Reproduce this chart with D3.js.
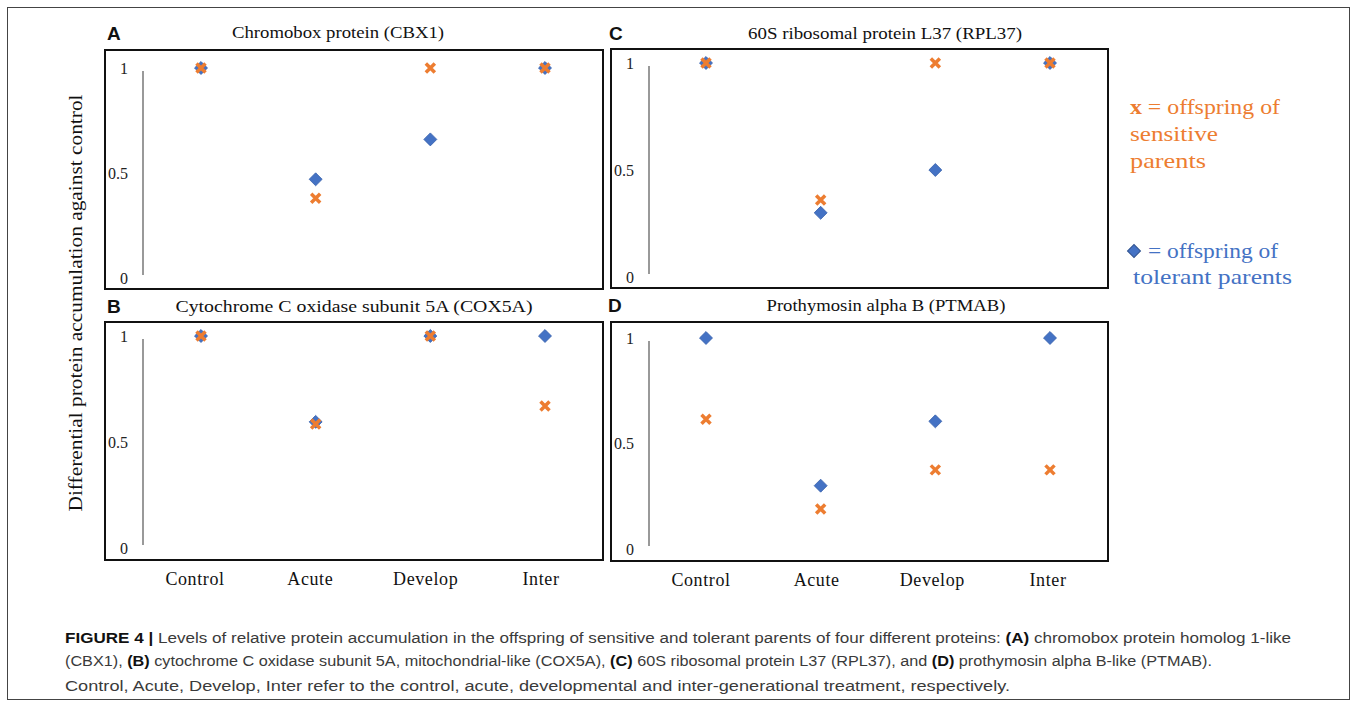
<!DOCTYPE html>
<html><head><meta charset="utf-8">
<script src="https://cdn.jsdelivr.net/npm/d3@7"></script>
<style>body{margin:0;background:#fff}svg{display:block}</style>
</head><body>
<script>
// ---- data ----
const categories = ["Control", "Acute", "Develop", "Inter"];
const panelLetters = ["A", "B", "C", "D"];
const panelTitles = [
  "Chromobox protein (CBX1)",
  "Cytochrome C oxidase  subunit 5A (COX5A)",
  "60S ribosomal protein L37 (RPL37)",
  "Prothymosin alpha B (PTMAB)"
];
const sensitiveA = [1, 0.38, 1, 1];
const sensitiveB = [1, 0.585, 1, 0.67];
const sensitiveC = [1, 0.36, 1, 1];
const sensitiveD = [0.615, 0.19, 0.375, 0.375];
const tolerantA = [1, 0.47, 0.66, 1];
const tolerantB = [1, 0.595, 1, 1];
const tolerantC = [1, 0.30, 0.50, 1];
const tolerantD = [1, 0.30, 0.605, 1];
const yTicks = [0, 0.5, 1];
const yTickLabels = ["0", "0.5", "1"];

const ORANGE = "#ED7D31", BLUE = "#4472C4";
const serif = "'Liberation Serif', 'DejaVu Serif', serif";
const sans = "'Liberation Sans', Arial, sans-serif";

const W = 1357, H = 708;
const svg = d3.select("body").append("svg").attr("width", W).attr("height", H);
svg.append("rect").attr("x", 7.5).attr("y", 7.5).attr("width", 1342).attr("height", 692)
  .attr("fill", "none").attr("stroke", "#444").attr("stroke-width", 1);

// layout per panel
const layout = [
  {box:[105,50,603,289], x:[201,545], y:[278,68], axisX:143, title:[338,32], letter:[107,33], titleLen:212, labels:[195,541]},
  {box:[105,322,603,560], x:[201,545], y:[548,336], axisX:143, title:[354,306], letter:[107,306], titleLen:357, labels:[195,541]},
  {box:[611,49,1108,288], x:[706,1050], y:[277,63], axisX:649, title:[885,33], letter:[609,33], titleLen:274, labels:[701,1048]},
  {box:[611,322,1108,561], x:[706,1050], y:[549,338], axisX:649, title:[886,305], letter:[608,305], titleLen:239, labels:[701,1048]}
];
const sensitive = [sensitiveA, sensitiveB, sensitiveC, sensitiveD];
const tolerant = [tolerantA, tolerantB, tolerantC, tolerantD];

const diamond = d3.symbol().type(d3.symbolSquare).size(84);

layout.forEach((L, i) => {
  const g = svg.append("g");
  const [x0,y0,x1,y1] = L.box;
  g.append("rect").attr("x", x0).attr("y", y0).attr("width", x1-x0).attr("height", y1-y0)
    .attr("fill", "#fff").attr("stroke", "#111").attr("stroke-width", 2);
  const x = d3.scalePoint().domain(categories).range(L.x);
  const y = d3.scaleLinear().domain([0,1]).range(L.y);
  // y axis line
  g.append("line").attr("x1", L.axisX).attr("x2", L.axisX)
    .attr("y1", y(1)+3).attr("y2", y(0)-3).attr("stroke", "#999").attr("stroke-width", 2);
  g.selectAll(".tk").data(yTicks).join("text")
    .attr("x", L.axisX - 15).attr("y", d => y(d)).attr("dy", "0.35em")
    .attr("text-anchor", "end").attr("font-family", serif).attr("font-size", 16).attr("fill", "#222")
    .text((d, j) => yTickLabels[j]);
  // title
  svg.append("text").attr("x", L.title[0]).attr("y", L.title[1]).attr("dy", "0.35em")
    .attr("text-anchor", "middle").attr("font-family", serif).attr("font-size", 17).attr("fill", "#111")
    .attr("textLength", L.titleLen).attr("lengthAdjust", "spacingAndGlyphs")
    .text(panelTitles[i]);
  svg.append("text").attr("x", L.letter[0]).attr("y", L.letter[1]).attr("dy", "0.36em")
    .attr("font-family", sans).attr("font-weight", "bold").attr("font-size", 19).attr("fill", "#111")
    .text(panelLetters[i]);
  // diamonds (tolerant)
  g.selectAll(".dm").data(tolerant[i]).join("path")
    .attr("d", diamond)
    .attr("transform", (d, j) => `translate(${x(categories[j])},${y(d)}) rotate(45)`)
    .attr("fill", BLUE).attr("stroke", "#3a63ad").attr("stroke-width", 0.8);
  // crosses (sensitive)
  g.selectAll(".cx").data(sensitive[i]).join("path")
    .attr("d", "M-4.5,-4.5L4.5,4.5M-4.5,4.5L4.5,-4.5")
    .attr("transform", (d, j) => `translate(${x(categories[j])},${y(d)})`)
    .attr("stroke", ORANGE).attr("stroke-width", 3.5).attr("fill", "none");
  // category labels under bottom panels
  if (i === 1 || i === 3) {
    const xl = d3.scalePoint().domain(categories).range(L.labels);
    g.selectAll(".cat").data(categories).join("text")
      .attr("x", d => xl(d)).attr("y", y1 + 19).attr("dy", "0.35em")
      .attr("text-anchor", "middle").attr("font-family", serif).attr("font-size", 18).attr("fill", "#111")
      .attr("letter-spacing", 0.6)
      .text(d => d);
  }
});

// y-axis title
svg.append("text").attr("transform", "translate(75,303) rotate(-90)").attr("dy", "0.35em")
  .attr("text-anchor", "middle").attr("font-family", serif).attr("font-size", 19).attr("fill", "#111")
  .attr("textLength", 417).attr("lengthAdjust", "spacingAndGlyphs")
  .text("Differential protein accumulation against control");

// legend
const lg = svg.append("g").attr("font-family", serif).attr("font-size", 21);
const l1 = lg.append("text").attr("x", 1130).attr("y", 107).attr("dy", "0.35em").attr("fill", ORANGE)
  .attr("textLength", 150).attr("lengthAdjust", "spacingAndGlyphs");
l1.append("tspan").attr("font-weight", "bold").text("x");
l1.append("tspan").text(" = offspring of");
lg.append("text").attr("x", 1130).attr("y", 134).attr("dy", "0.35em").attr("fill", ORANGE)
  .attr("textLength", 88).attr("lengthAdjust", "spacingAndGlyphs").text("sensitive");
lg.append("text").attr("x", 1130).attr("y", 161).attr("dy", "0.35em").attr("fill", ORANGE)
  .attr("textLength", 76).attr("lengthAdjust", "spacingAndGlyphs").text("parents");
lg.append("path").attr("d", diamond).attr("transform", "translate(1134,251) rotate(45)")
  .attr("fill", BLUE).attr("stroke", "#2f528f").attr("stroke-width", 1);
lg.append("text").attr("x", 1148).attr("y", 251).attr("dy", "0.35em").attr("fill", BLUE)
  .attr("textLength", 130).attr("lengthAdjust", "spacingAndGlyphs").text("= offspring of");
lg.append("text").attr("x", 1133).attr("y", 277).attr("dy", "0.35em").attr("fill", BLUE)
  .attr("textLength", 159).attr("lengthAdjust", "spacingAndGlyphs").text("tolerant parents");

// caption
const captionLines = [
  [["FIGURE 4 |", true], [" Levels of relative protein accumulation in the offspring of sensitive and tolerant parents of four different proteins: ", false], ["(A)", true], [" chromobox protein homolog 1-like", false]],
  [["(CBX1), ", false], ["(B)", true], [" cytochrome C oxidase subunit 5A, mitochondrial-like (COX5A), ", false], ["(C)", true], [" 60S ribosomal protein L37 (RPL37), and ", false], ["(D)", true], [" prothymosin alpha B-like (PTMAB).", false]],
  [["Control, Acute, Develop, Inter refer to the control, acute, developmental and inter-generational treatment, respectively.", false]]
];
const captionY = [638, 661, 686];
const captionLen = [1226, 1147, 945];
captionLines.forEach((parts, k) => {
  const t = svg.append("text").attr("x", 65).attr("y", captionY[k]).attr("dy", "0.35em")
    .attr("font-family", sans).attr("font-size", 15.5).attr("fill", "#3a3a3a")
    .attr("textLength", captionLen[k]).attr("lengthAdjust", "spacingAndGlyphs");
  parts.forEach(([s, b]) => {
    t.append("tspan").attr("font-weight", b ? "bold" : "normal").attr("fill", b ? "#111" : "#3a3a3a").text(s);
  });
});
</script>
</body></html>
